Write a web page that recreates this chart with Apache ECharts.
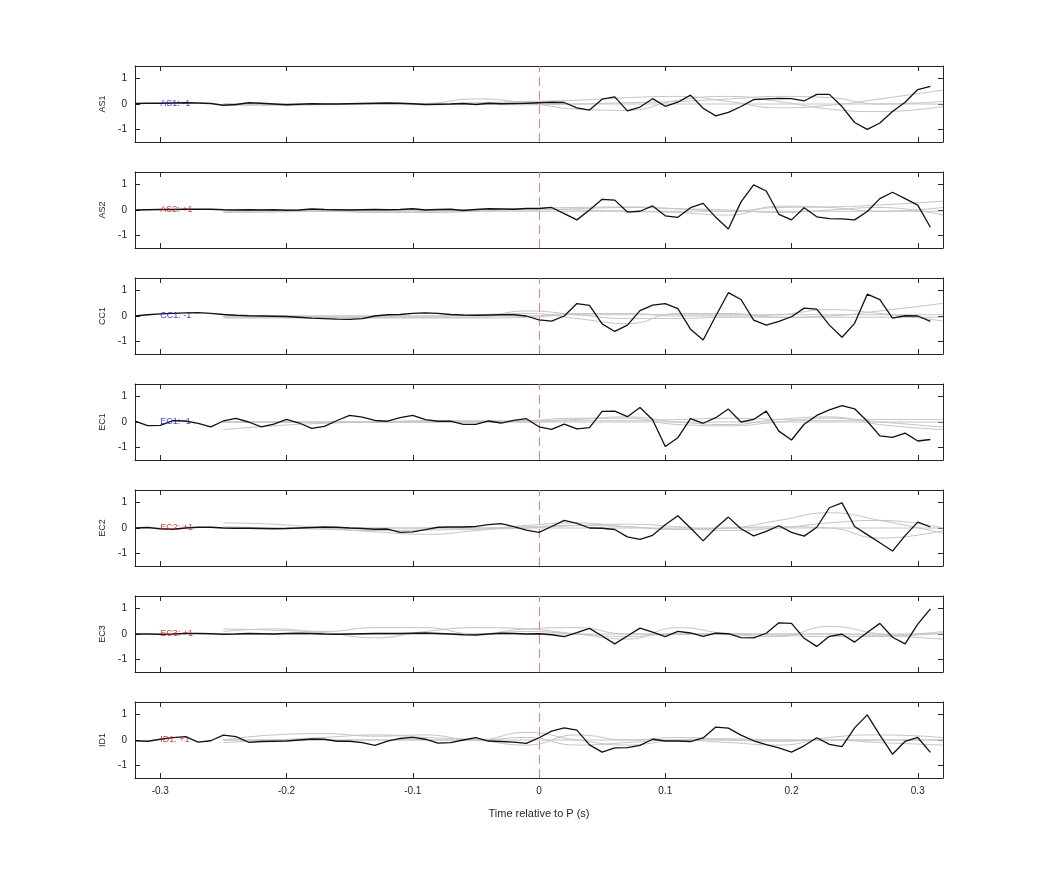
<!DOCTYPE html>
<html><head><meta charset="utf-8">
<script src="https://cdn.jsdelivr.net/npm/echarts@6/dist/echarts.min.js"></script>
<style>html,body{margin:0;padding:0;background:#fff}#c{width:1042px;height:875px}</style>
</head><body><div id="c"></div>
<script>
const times = [-0.32,-0.31,-0.30,-0.29,-0.28,-0.27,-0.26,-0.25,-0.24,-0.23,-0.22,-0.21,-0.20,-0.19,-0.18,-0.17,-0.16,-0.15,-0.14,-0.13,-0.12,-0.11,-0.10,-0.09,-0.08,-0.07,-0.06,-0.05,-0.04,-0.03,-0.02,-0.01,0.00,0.01,0.02,0.03,0.04,0.05,0.06,0.07,0.08,0.09,0.10,0.11,0.12,0.13,0.14,0.15,0.16,0.17,0.18,0.19,0.20,0.21,0.22,0.23,0.24,0.25,0.26,0.27,0.28,0.29,0.30,0.31];
const stations = ["AS1","AS2","CC1","EC1","EC2","EC3","ID1"];
const polarity = ["-1","+1","-1","-1","+1","+1","+1"];
const AS1 = [0.02,0.03,0.03,0.04,0.05,0.04,0.02,-0.05,-0.02,0.05,0.03,0.0,-0.03,-0.01,0.01,0.0,0.0,0.01,0.02,0.03,0.04,0.03,0.01,-0.02,-0.01,0.0,0.02,-0.02,0.03,0.01,0.02,0.03,0.05,0.07,0.06,-0.15,-0.24,0.19,0.28,-0.27,-0.12,0.21,-0.09,0.07,0.35,-0.17,-0.47,-0.33,-0.1,0.17,0.2,0.22,0.21,0.12,0.38,0.38,-0.1,-0.73,-1.0,-0.75,-0.3,0.07,0.57,0.7];
const AS2 = [0.0,0.01,0.02,0.02,0.03,0.03,0.03,0.01,0.0,0.01,0.0,0.01,-0.01,0.0,0.04,0.02,0.01,0.0,0.01,0.02,0.01,0.02,0.05,0.0,0.02,0.03,-0.02,0.02,0.05,0.04,0.03,0.06,0.06,0.1,-0.14,-0.39,0.0,0.42,0.39,-0.08,-0.05,0.16,-0.23,-0.29,0.09,0.26,-0.29,-0.75,0.32,0.99,0.75,-0.17,-0.39,0.09,-0.27,-0.34,-0.35,-0.39,-0.06,0.45,0.7,0.45,0.19,-0.68];
const CC1 = [0.0,0.05,0.08,0.1,0.12,0.13,0.1,0.06,0.03,0.01,0.0,-0.01,-0.02,-0.05,-0.08,-0.1,-0.12,-0.13,-0.1,0.0,0.05,0.06,0.1,0.12,0.1,0.06,0.04,0.03,0.04,0.05,0.05,0.0,-0.15,-0.2,0.0,0.49,0.42,-0.31,-0.61,-0.36,0.21,0.43,0.49,0.29,-0.52,-0.95,0.0,0.92,0.65,-0.16,-0.36,-0.21,-0.03,0.31,0.27,-0.36,-0.84,-0.29,0.86,0.65,-0.08,0.01,0.0,-0.21];
const EC1 = [0.03,-0.14,-0.13,0.05,0.04,-0.05,-0.19,0.04,0.14,0.0,-0.19,-0.08,0.1,-0.04,-0.25,-0.17,0.06,0.26,0.19,0.06,0.03,0.17,0.26,0.09,0.03,0.03,-0.09,-0.09,0.04,-0.04,0.06,0.13,-0.19,-0.29,-0.08,-0.27,-0.22,0.42,0.43,0.21,0.57,0.09,-0.97,-0.62,0.13,-0.05,0.17,0.51,0.0,0.1,0.43,-0.36,-0.71,-0.09,0.26,0.48,0.65,0.52,0.03,-0.55,-0.61,-0.44,-0.75,-0.69];
const EC2 = [0.0,0.02,-0.03,-0.05,0.0,0.03,0.03,0.0,-0.01,-0.01,-0.02,-0.03,-0.02,0.0,0.02,0.04,0.03,0.0,-0.02,-0.05,-0.04,-0.17,-0.15,-0.06,0.03,0.04,0.04,0.06,0.13,0.17,0.05,-0.08,-0.17,0.06,0.3,0.18,0.0,-0.01,-0.06,-0.35,-0.45,-0.29,0.13,0.48,0.0,-0.51,0.0,0.43,-0.03,-0.31,-0.13,0.09,-0.17,-0.32,0.03,0.8,0.99,0.06,-0.26,-0.58,-0.91,-0.3,0.23,0.04];
const EC3 = [0.0,0.0,-0.01,0.0,0.02,0.02,0.01,-0.01,0.0,0.02,0.01,0.0,0.02,0.03,0.02,0.0,-0.01,0.0,0.01,0.02,0.02,0.02,0.03,0.04,0.02,0.0,-0.03,-0.04,0.0,0.03,0.02,0.0,0.01,-0.03,-0.1,0.05,0.22,-0.08,-0.39,-0.08,0.23,0.07,-0.1,0.1,0.04,-0.09,0.03,0.01,-0.14,-0.15,0.03,0.44,0.42,-0.17,-0.49,-0.09,-0.01,-0.32,0.06,0.42,-0.13,-0.39,0.39,0.99];
const ID1 = [-0.03,-0.05,0.03,0.09,0.13,-0.08,-0.03,0.19,0.13,-0.09,-0.06,-0.05,-0.04,0.0,0.04,0.03,-0.05,-0.05,-0.1,-0.21,-0.04,0.06,0.1,0.03,-0.12,-0.1,0.0,0.09,-0.04,-0.06,-0.08,-0.13,0.09,0.35,0.48,0.39,-0.19,-0.48,-0.31,-0.3,-0.21,0.03,-0.04,-0.04,-0.06,0.08,0.51,0.47,0.19,-0.03,-0.18,-0.31,-0.48,-0.23,0.09,-0.17,-0.26,0.48,0.99,0.19,-0.56,-0.05,0.1,-0.49];
const blacks = [AS1,AS2,CC1,EC1,EC2,EC3,ID1];
// grey comparison traces, sampled every 0.04 s from -0.25
const greyTimes = [-0.25,-0.21,-0.17,-0.13,-0.09,-0.05,-0.01,0.03,0.07,0.11,0.15,0.19,0.23,0.27,0.32];
const greys = [
 [[0.0,-0.02,0.0,0.02,0.0,0.0,0.0,0.0,0.0,0.0,0.0,0.0,0.0,0.0,0.0],[0,0,0,0,0.02,0.2,0.05,-0.2,-0.25,0.15,0.3,0.1,-0.2,-0.3,-0.1],[0,0,0,0,0,0.05,0.1,0.15,0.25,0.3,0.1,-0.15,-0.05,0.2,0.55],[-0.05,-0.05,-0.03,-0.02,-0.03,-0.02,-0.03,0.0,0.05,0.1,0.2,0.3,0.25,0.0,0.1]],
 [[-0.1,-0.08,-0.05,-0.1,-0.1,-0.05,0.05,0.1,0.12,0.05,-0.05,0.1,0.12,0.2,0.35],[0,0,0,0,0,0.02,0.05,0.0,-0.05,-0.1,-0.2,0.15,0.1,-0.05,0.1],[0,0,0,0,0,0,0,0.05,0.1,0.05,0.0,-0.1,0.0,0.1,-0.2],[-0.05,-0.05,-0.05,-0.05,-0.05,-0.05,-0.05,-0.05,-0.05,-0.05,-0.05,-0.05,-0.05,-0.05,-0.05]],
 [[-0.05,-0.05,-0.05,-0.05,-0.05,-0.05,0.2,0.05,-0.1,-0.1,-0.05,-0.05,-0.05,-0.05,-0.05],[0,0,0,0,0,0.05,0.1,-0.1,-0.3,0.1,0.1,-0.05,0.0,0.2,0.5],[0,0,0,0,0,0,0,0.1,0.1,0.0,0.0,0.05,0.25,0.1,-0.2],[-0.08,-0.08,-0.08,-0.08,-0.08,-0.08,-0.05,0.05,0.05,0.05,0.05,0.05,0.05,0.05,0.05]],
 [[-0.3,-0.15,-0.05,0.0,0.05,0.05,0.05,0.1,0.2,0.0,-0.1,0.1,0.2,-0.1,-0.3],[0,0,0,0,0,0,0.05,0.15,0.15,-0.1,-0.15,0.0,0.15,0.0,-0.2],[0,0,0,0,0,0,0,0.05,0.05,0.1,0.15,0.1,0.05,0.1,0.1],[0.0,0.0,0.0,0.0,0.0,0.0,0.0,0.0,0.0,0.0,0.0,0.0,0.0,0.0,0.0]],
 [[0.2,0.15,0.0,-0.15,-0.25,-0.1,0.1,0.2,0.05,-0.05,0.0,0.3,0.6,0.3,-0.2],[0.05,0.0,-0.05,-0.1,-0.08,-0.05,0.0,0.1,0.15,0.05,-0.1,0.0,0.2,0.3,0.0],[0,0,0,0,0,0,0.05,0.1,0.05,-0.05,0.0,0.05,0.0,-0.4,-0.1],[0,0,0,0,0,0,0,0,0,0,0,0,0,0,0]],
 [[0.2,0.15,0.05,-0.15,0.1,0.25,0.2,0.0,-0.2,0.25,0.0,-0.1,0.3,0.0,-0.2],[0.1,0.2,0.1,0.25,0.25,0.0,0.2,0.25,0.0,0.0,0.0,0.0,0.0,-0.05,0.1],[0,0,0,0,0,0,0.1,0.0,-0.1,0.0,0.0,-0.05,-0.1,-0.1,0.05],[0,0,0,0,0,0,0,0,0,0,0,0,0,0,0]],
 [[0.0,0.2,0.25,0.15,0.2,0.0,0.3,0.0,-0.2,0.0,0.05,0.0,0.0,0.0,0.0],[-0.1,0.0,0.1,0.2,0.1,0.0,-0.2,0.2,0.0,0.1,0.0,-0.05,0.0,-0.1,-0.2],[0,0,0,0,0,0,0.1,-0.2,-0.1,0.0,-0.1,-0.2,0.1,0.2,0.1],[0,0,0,0,0,0,0,0,0,0,0,0,0,0,0]]
];
const tickX = [-0.3,-0.2,-0.1,0,0.1,0.2,0.3];
const tickY = [-1,0,1];
const xTickLabels = ["-0.3","-0.2","-0.1","0","0.1","0.2","0.3"];

const chart = echarts.init(document.getElementById('c'));
const grid=[],xAxis=[],yAxis=[],series=[];
const font = 'Liberation Sans, Arial, sans-serif';
stations.forEach((s,i)=>{
  const top = 66 + i*106;
  grid.push({left:135,width:808,top:top,height:76});
  const last = i===stations.length-1;
  const axLine = {show:true,onZero:false,lineStyle:{color:'#262626',width:1}};
  const tk = {inside:true,length:5,lineStyle:{color:'#262626'}};
  xAxis.push({gridIndex:i,type:'value',min:-0.32,max:0.32,position:'bottom',
    axisLine:axLine,splitLine:{show:false},
    axisTick:Object.assign({customValues:tickX},tk),
    axisLabel:{show:last,customValues:tickX,formatter:v=>xTickLabels[tickX.indexOf(Math.round(v*10)/10)]||'',color:'#262626',fontSize:10,fontFamily:font,margin:8},
    name: last?'Time relative to P (s)':'',nameLocation:'middle',nameGap:30,nameTextStyle:{color:'#262626',fontSize:11,fontFamily:font}});
  xAxis.push({gridIndex:i,type:'value',min:-0.32,max:0.32,position:'top',
    axisLine:axLine,splitLine:{show:false},
    axisTick:Object.assign({customValues:tickX},tk),axisLabel:{show:false}});
  yAxis.push({gridIndex:i,type:'value',min:-1.5,max:1.5,position:'left',
    axisLine:axLine,splitLine:{show:false},
    axisTick:Object.assign({customValues:tickY},tk),
    axisLabel:{customValues:tickY,color:'#262626',fontSize:10,fontFamily:font,margin:8},
    name:s,nameLocation:'middle',nameGap:28,nameRotate:90,nameTextStyle:{color:'#262626',fontSize:9,fontFamily:font}});
  yAxis.push({gridIndex:i,type:'value',min:-1.5,max:1.5,position:'right',
    axisLine:axLine,splitLine:{show:false},
    axisTick:Object.assign({customValues:tickY},tk),axisLabel:{show:false}});
  greys[i].forEach(g=>{
    series.push({type:'line',xAxisIndex:2*i,yAxisIndex:2*i,smooth:0.5,symbol:'none',silent:true,z:1,
      lineStyle:{color:'#c4c4c4',width:1},data:greyTimes.map((t,k)=>[t,g[k]])});
  });
  series.push({type:'line',xAxisIndex:2*i,yAxisIndex:2*i,symbol:'none',silent:true,z:3,
    lineStyle:{color:'#111',width:1.3},data:times.map((t,k)=>[t,blacks[i][k]]),
    markLine:{silent:true,symbol:'none',z:2,label:{show:false},lineStyle:{color:'#f08080',type:[9,5],width:1},data:[{xAxis:0}]}});
  series.push({type:'scatter',xAxisIndex:2*i,yAxisIndex:2*i,symbolSize:0,silent:true,z:5,
    data:[[-0.3,0]],label:{show:true,position:'right',distance:0,formatter:s+': '+polarity[i],
      color: polarity[i]==='-1'?'#1010d0':'#d01010',fontSize:9,fontFamily:font}});
});
chart.setOption({animation:false,backgroundColor:'#fff',grid,xAxis,yAxis,series});
</script></body></html>
